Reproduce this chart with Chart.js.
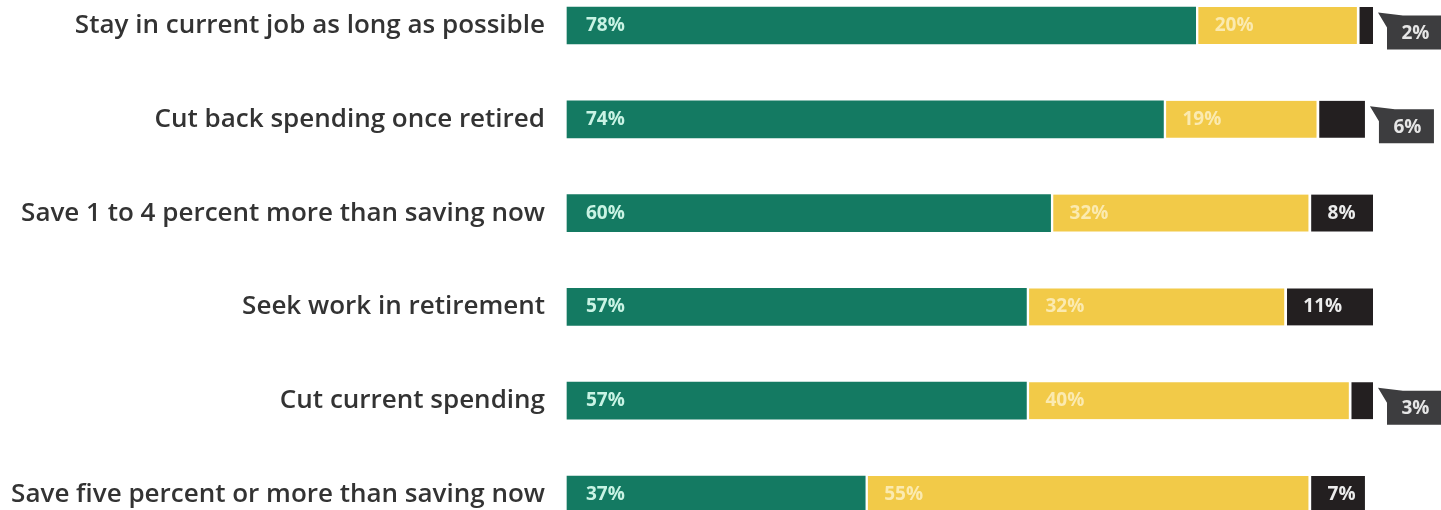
<!DOCTYPE html>
<html>
<head>
<meta charset="utf-8">
<script src="https://cdn.jsdelivr.net/npm/chart.js@4.4.1/dist/chart.umd.min.js"></script>
<style>
  html, body { margin: 0; padding: 0; background: #fff; }
  #wrap { width: 1441px; height: 510px; position: relative; }
</style>
</head>
<body>
<div id="wrap"><canvas id="planChart"></canvas></div>
<script>
// Survey answers, one row per retirement strategy
const categories = [
  'Stay in current job as long as possible',
  'Cut back spending once retired',
  'Save 1 to 4 percent more than saving now',
  'Seek work in retirement',
  'Cut current spending',
  'Save five percent or more than saving now'
];
const likely   = [78, 74, 60, 57, 57, 37];
const maybe    = [20, 19, 32, 32, 40, 55];
const unlikely = [2, 6, 8, 11, 3, 7];

const GREEN = '#147a62';
const YELLOW = '#f2ca48';
const BLACK = '#231f20';
const CALLOUT = '#3d3d3f';

// values this small get a speech-bubble label outside the bar
const CALLOUT_MAX = 6;

const labelColors = ['#c9f3e4', '#fbeab0', '#ececec'];

const valueLabels = {
  id: 'valueLabels',
  afterDatasetsDraw(chart) {
    const ctx = chart.ctx;
    ctx.save();
    ctx.font = 'bold 19px "Open Sans", sans-serif';
    ctx.textBaseline = 'middle';
    chart.data.datasets.forEach((ds, di) => {
      const meta = chart.getDatasetMeta(di);
      meta.data.forEach((bar, i) => {
        const v = ds.data[i];
        const left = Math.min(bar.x, bar.base);
        const right = Math.max(bar.x, bar.base);
        if (di === 2 && v <= CALLOUT_MAX) {
          const bx = right + 14, by = bar.y - 10, w = 55, h = 34;
          ctx.fillStyle = CALLOUT;
          ctx.beginPath();
          ctx.moveTo(bx - 9, by - 3);
          ctx.lineTo(bx + 16, by);
          ctx.lineTo(bx + w, by);
          ctx.lineTo(bx + w, by + h);
          ctx.lineTo(bx, by + h);
          ctx.lineTo(bx, by + 12);
          ctx.closePath();
          ctx.fill();
          ctx.fillStyle = '#e6e6e6';
          ctx.textAlign = 'center';
          ctx.fillText(v + '%', bx + w / 2 + 1, by + h / 2 + 1);
        } else {
          ctx.fillStyle = labelColors[di];
          ctx.textAlign = 'left';
          ctx.fillText(v + '%', left + 19, bar.y);
        }
      });
    });
    ctx.restore();
  }
};

// white strip on the left of a segment separates it from the one before
const gap = { left: 3, right: 0, top: 0, bottom: 0 };

new Chart(document.getElementById('planChart'), {
  type: 'bar',
  data: {
    labels: categories,
    datasets: [
      { label: 'Likely', data: likely, backgroundColor: GREEN, borderWidth: 0 },
      { label: 'Maybe', data: maybe, backgroundColor: YELLOW, borderColor: '#fff', borderWidth: gap, borderSkipped: false },
      { label: 'Unlikely', data: unlikely, backgroundColor: BLACK, borderColor: '#fff', borderWidth: gap, borderSkipped: false }
    ]
  },
  options: {
    indexAxis: 'y',
    responsive: true,
    maintainAspectRatio: false,
    animation: false,
    layout: { padding: { top: 25.5, bottom: 15.5, right: 68, left: 0 } },
    datasets: { bar: { barThickness: 37, clip: false } },
    plugins: { legend: { display: false }, tooltip: { enabled: false } },
    scales: {
      x: { stacked: true, min: 0, max: 100, display: false },
      y: {
        stacked: true,
        offset: false,
        border: { display: false },
        grid: { display: false, drawTicks: false },
        ticks: {
          padding: 22,
          color: '#333',
          font: { family: '"Open Sans", sans-serif', size: 26, weight: '600' }
        },
        // fixed label column; no extra room reserved above/below for tick text
        afterFit(scale) {
          scale.width = 567;
          scale.paddingTop = 0;
          scale.paddingBottom = 0;
        }
      }
    }
  },
  plugins: [valueLabels]
});
</script>
</body>
</html>
